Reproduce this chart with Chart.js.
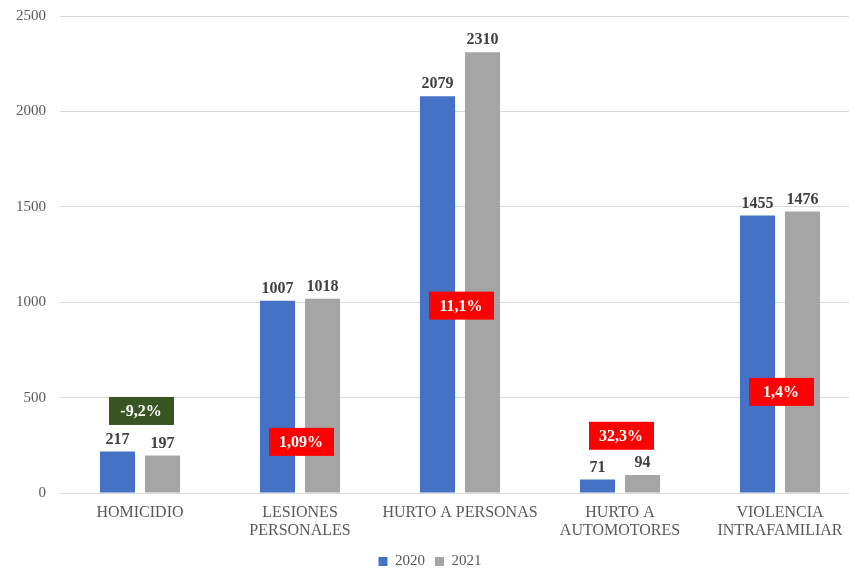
<!DOCTYPE html>
<html>
<head>
<meta charset="utf-8">
<script src="https://cdn.jsdelivr.net/npm/chart.js@4/dist/chart.umd.min.js"></script>
<style>
  html, body { margin: 0; padding: 0; background: #fff; overflow: hidden; }
  #wrap { width: 860px; height: 586px; margin-top: -7px; }
</style>
</head>
<body>
<div id="wrap"><canvas id="chart"></canvas></div>
<script>
// === Daten ===
const categories = [
  'HOMICIDIO',
  ['LESIONES', 'PERSONALES'],
  'HURTO A PERSONAS',
  ['HURTO A', 'AUTOMOTORES'],
  ['VIOLENCIA', 'INTRAFAMILIAR']
];
const values2020 = [217, 1007, 2079, 71, 1455];
const values2021 = [197, 1018, 2310, 94, 1476];

// Variación 2020 -> 2021 (Cajas sobre las barras)
const pctLabels = ['-9,2%', '1,09%', '11,1%', '32,3%', '1,4%'];
const pctColors = ['#375623', '#ff0000', '#ff0000', '#ff0000', '#ff0000'];
const pctAnchor = [430, 268, 982, 300, 530]; // Höhe in Achsenwerten

const SERIF = '"Liberation Serif", "Times New Roman", serif';

// Werte über den Balken
const valueLabels = {
  id: 'valueLabels',
  afterDatasetsDraw(chart) {
    const ctx = chart.ctx;
    ctx.save();
    ctx.font = 'bold 16px ' + SERIF;
    ctx.fillStyle = '#404040';
    ctx.textAlign = 'center';
    ctx.textBaseline = 'bottom';
    chart.data.datasets.forEach((ds, i) => {
      chart.getDatasetMeta(i).data.forEach((bar, j) => {
        ctx.fillText(String(ds.data[j]), bar.x, bar.y - 4);
      });
    });
    ctx.restore();
  }
};

// Prozent-Kästchen
const pctBoxes = {
  id: 'pctBoxes',
  afterDatasetsDraw(chart) {
    const ctx = chart.ctx;
    const xs = chart.scales.x, ys = chart.scales.y;
    ctx.save();
    ctx.font = 'bold 16px ' + SERIF;
    ctx.textAlign = 'center';
    ctx.textBaseline = 'middle';
    pctLabels.forEach((txt, i) => {
      const cx = xs.getPixelForValue(i) + 1;
      const cy = ys.getPixelForValue(pctAnchor[i]);
      ctx.fillStyle = pctColors[i];
      ctx.fillRect(cx - 32, cy - 14, 65, 28);
      ctx.fillStyle = '#ffffff';
      ctx.fillText(txt, cx, cy + 1);
    });
    ctx.restore();
  }
};

new Chart(document.getElementById('chart'), {
  type: 'bar',
  data: {
    labels: categories,
    datasets: [
      { label: '2020', data: values2020, backgroundColor: '#4472c4' },
      { label: '2021', data: values2021, backgroundColor: '#a5a5a5' }
    ]
  },
  options: {
    responsive: true,
    maintainAspectRatio: false,
    animation: false,
    datasets: { bar: { categoryPercentage: 0.5625, barPercentage: 0.78 } },
    layout: { padding: { top: 9, left: 0, right: 0, bottom: 0 } },
    plugins: {
      tooltip: { enabled: false },
      legend: {
        position: 'bottom',
        labels: {
          boxWidth: 9, boxHeight: 9, padding: 10,
          color: '#595959',
          font: { family: SERIF, size: 15 }
        }
      }
    },
    scales: {
      x: {
        grid: { display: false, drawTicks: false },
        border: { color: '#d9d9d9', width: 1 },
        afterFit(scale) { scale.height = 51; },
        ticks: {
          color: '#595959', padding: 11, maxRotation: 0, autoSkip: false,
          font: { family: SERIF, size: 16, lineHeight: 1.12 }
        }
      },
      y: {
        min: 0, max: 2500,
        grid: { color: '#d9d9d9', drawTicks: false },
        border: { display: false },
        afterFit(scale) { scale.width = 60; },
        ticks: {
          stepSize: 500, padding: 14, color: '#595959',
          font: { family: SERIF, size: 15 },
          callback: v => String(v)
        }
      }
    }
  },
  plugins: [valueLabels, pctBoxes]
});
</script>
</body>
</html>
